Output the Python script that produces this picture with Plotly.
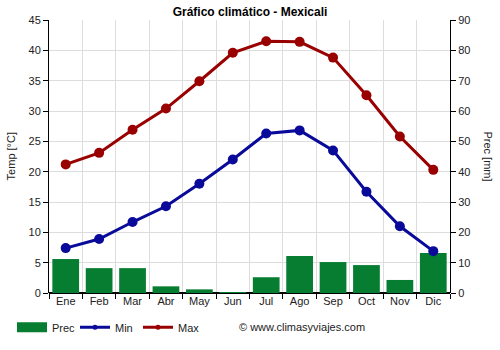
import plotly.graph_objects as go

months = ["Ene", "Feb", "Mar", "Abr", "May", "Jun", "Jul", "Ago", "Sep", "Oct", "Nov", "Dic"]
prec = [11.2, 8.2, 8.2, 2.2, 1.2, 0.2, 5.2, 12.2, 10.2, 9.2, 4.3, 13.2]
tmin = [7.4, 8.9, 11.7, 14.3, 18.0, 22.0, 26.3, 26.8, 23.5, 16.7, 11.0, 6.9]
tmax = [21.2, 23.1, 26.9, 30.4, 34.9, 39.6, 41.5, 41.4, 38.8, 32.6, 25.8, 20.3]

font = "Liberation Sans, Arial, sans-serif"
green = "#077d32"
blue = "#0a0a9a"
red = "#990000"

fig = go.Figure()
fig.add_trace(go.Bar(x=months, y=prec, name="Prec", marker_color=green,
                     marker_line_width=0, yaxis="y", showlegend=False))
fig.add_trace(go.Scatter(x=months, y=tmin, name="Min", mode="lines+markers",
                         line=dict(color=blue, width=3),
                         marker=dict(size=10, color=blue), yaxis="y2", showlegend=False))
fig.add_trace(go.Scatter(x=months, y=tmax, name="Max", mode="lines+markers",
                         line=dict(color=red, width=3),
                         marker=dict(size=10, color=red), yaxis="y2", showlegend=False))

# legend entries
fig.add_trace(go.Scatter(x=[None], y=[None], name="Prec", mode="lines",
                         line=dict(color=green, width=11), yaxis="y2"))
fig.add_trace(go.Scatter(x=[None], y=[None], name="Min", mode="lines+markers",
                         line=dict(color=blue, width=3),
                         marker=dict(size=5, color=blue), yaxis="y2"))
fig.add_trace(go.Scatter(x=[None], y=[None], name="Max", mode="lines+markers",
                         line=dict(color=red, width=3),
                         marker=dict(size=5, color=red), yaxis="y2"))

fig.update_layout(
    width=500, height=350,
    margin=dict(l=49, r=50, t=20, b=57, autoexpand=False),
    paper_bgcolor="white", plot_bgcolor="white",
    font=dict(family=font, size=11, color="#222"),
    bargap=0.2,
    showlegend=True,
    title=dict(text="<b>Gráfico climático - Mexicali</b>", x=0.5, xanchor="center",
               y=0.965, yanchor="middle", font=dict(size=12, color="black")),
    xaxis=dict(type="category", categoryorder="array", categoryarray=months,
               range=[-0.5, len(months) - 0.5],
               tickson="boundaries", showgrid=True, gridcolor="#dddddd",
               ticks="outside", ticklen=5, tickcolor="black", showline=False,
               tickfont=dict(size=11, color="#222")),
    yaxis=dict(range=[0, 90], dtick=10, side="right", showgrid=False,
               ticks="outside", ticklen=5, tickcolor="black",
               showline=True, linecolor="black", linewidth=1,
               zeroline=False, tickfont=dict(size=11, color="#222")),
    yaxis2=dict(range=[0, 45], dtick=5, side="left", overlaying="y",
                showgrid=True, gridcolor="#dddddd",
                ticks="outside", ticklen=5, tickcolor="black",
                showline=True, linecolor="black", linewidth=1,
                zeroline=True, zerolinecolor="black", zerolinewidth=2,
                tickfont=dict(size=11, color="#222")),
    legend=dict(orientation="h", xref="container", yref="container",
                x=0.024, y=0.065, xanchor="left", yanchor="middle",
                font=dict(size=11, color="#222"), itemwidth=30,
                entrywidth=18, entrywidthmode="pixels", traceorder="normal"),
    annotations=[
        dict(text="Temp [°C]", textangle=-90, xref="paper", yref="paper",
             x=-0.095, y=0.5, xanchor="center", yanchor="middle", showarrow=False,
             font=dict(size=11, color="#222")),
        dict(text="Prec [mm]", textangle=90, xref="paper", yref="paper",
             x=1.095, y=0.5, xanchor="center", yanchor="middle", showarrow=False,
             font=dict(size=11, color="#222")),
        dict(text="© www.climasyviajes.com", xref="paper", yref="paper",
             x=0.469, y=-0.125, xanchor="left", yanchor="middle", showarrow=False,
             font=dict(size=11, color="#222")),
    ],
)

fig.write_html("out.html")
